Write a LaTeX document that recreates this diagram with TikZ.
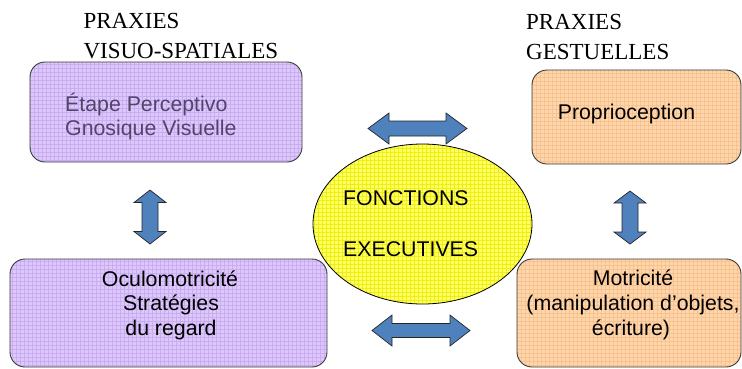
\documentclass[tikz,border=0pt]{standalone}
\usepackage{fontspec}
\setmainfont{Liberation Serif}
\newfontfamily\sansfnt{Liberation Sans}
\definecolor{pfill}{HTML}{DDC8FA}
\definecolor{pgrid}{HTML}{C9ACF2}
\definecolor{ofill}{HTML}{FFD6AC}
\definecolor{ogrid}{HTML}{F6C290}
\definecolor{yfill}{HTML}{FFFF66}
\definecolor{ygrid}{HTML}{EEEE10}
\definecolor{afill}{HTML}{4F81BD}
\definecolor{bordr}{HTML}{3A3A3A}
\definecolor{greytxt}{HTML}{52446A}
\tikzset{
  gridfill/.style={path picture={\draw[#1, line width=0.45pt, step=4pt]
     (path picture bounding box.south west) grid (path picture bounding box.north east);}},
  roundbox/.style={draw=bordr, line width=0.9pt, rounded corners=15pt, inner sep=0pt},
  purplebox/.style={roundbox, fill=pfill, gridfill=pgrid},
  orangebox/.style={roundbox, fill=ofill, gridfill=ogrid},
  ellbox/.style={ellipse, draw=black, line width=0.8pt, fill=yfill, gridfill=ygrid, inner sep=0pt},
  blockarrow/.style={draw=black!85, line width=0.7pt, fill=afill, line join=miter},
  titletxt/.style={font=\fontsize{23}{28}\selectfont, inner sep=0pt, anchor=base west},
  boxtxt/.style={font=\sansfnt\fontsize{21.3}{25}\selectfont, inner sep=0pt},
}
\usetikzlibrary{shapes.geometric}
\begin{document}
\begin{tikzpicture}[x=1pt,y=-1pt]
\useasboundingbox (0,0) rectangle (742,368);
% ellipse
\node[ellbox, minimum width=219pt, minimum height=160pt] (fe) at (422.5,224) {};
% boxes
\node[purplebox, minimum width=272pt, minimum height=100pt] (tl) at (166,112) {};
\node[orangebox, minimum width=209pt, minimum height=94pt] (tr) at (636.5,117) {};
\node[purplebox, minimum width=317pt, minimum height=108pt] (bl) at (168.5,313) {};
\node[orangebox, minimum width=224pt, minimum height=108pt] (br) at (629,313) {};
% block arrows
\draw[blockarrow, shift={(417.5,128.5)}] (-49.5,0) -- (-28.5,-15.5) -- (-28.5,-7.5) -- (28.5,-7.5) -- (28.5,-15.5) -- (49.5,0) -- (28.5,15.5) -- (28.5,7.5) -- (-28.5,7.5) -- (-28.5,15.5) -- cycle;
\draw[blockarrow, shift={(421,330.5)}] (-49,0) -- (-29,-15.5) -- (-29,-7) -- (29,-7) -- (29,-15.5) -- (49,0) -- (29,15.5) -- (29,7) -- (-29,7) -- (-29,15.5) -- cycle;
\draw[blockarrow, shift={(150,217)}] (0,-27) -- (16,-14.5) -- (8,-14.5) -- (8,14.5) -- (16,14.5) -- (0,27) -- (-16,14.5) -- (-8,14.5) -- (-8,-14.5) -- (-16,-14.5) -- cycle;
\draw[blockarrow, shift={(630,217.5)}] (0,-26.5) -- (16,-14.5) -- (8,-14.5) -- (8,14.5) -- (16,14.5) -- (0,26.5) -- (-16,14.5) -- (-8,14.5) -- (-8,-14.5) -- (-16,-14.5) -- cycle;
% titles
\node[titletxt] (t1a) at (83.3,28.5) {PRAXIES};
\node[titletxt] (t1b) at (83.3,58.3) {VISUO-SPATIALES};
\node[titletxt] (t2a) at (526,29.5) {PRAXIES};
\node[titletxt] (t2b) at (526,59.3) {GESTUELLES};
% box texts
\node[boxtxt, anchor=base west, text=greytxt] (tla) at (65,111.7) {Étape Perceptivo};
\node[boxtxt, anchor=base west, text=greytxt] (tlb) at (65,135) {Gnosique Visuelle};
\node[boxtxt, anchor=base] (tra) at (626.5,119) {Proprioception};
\node[boxtxt, anchor=base] (bla) at (170,286.3) {Oculomotricité};
\node[boxtxt, anchor=base] (blb) at (171,310.7) {Stratégies};
\node[boxtxt, anchor=base] (blc) at (171,335.7) {du regard};
\node[boxtxt, anchor=base] (bra) at (633,285.7) {Motricité};
\node[boxtxt, anchor=base] (brb) at (633,310.3) {(manipulation d’objets,};
\node[boxtxt, anchor=base] (brc) at (631,335.7) {écriture)};
\node[boxtxt, anchor=base west] (fea) at (343,205) {FONCTIONS};
\node[boxtxt, anchor=base west] (feb) at (343,256) {EXECUTIVES};
\end{tikzpicture}
\end{document}
